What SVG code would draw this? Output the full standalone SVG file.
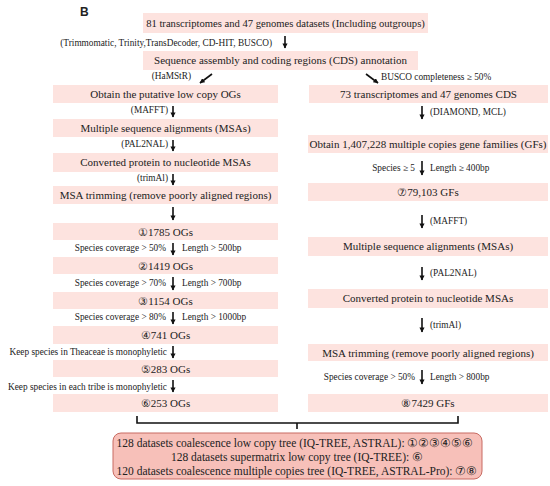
<svg xmlns="http://www.w3.org/2000/svg" width="550" height="486" viewBox="0 0 550 486">
<defs>
<marker id="ah" viewBox="0 0 10 10" refX="9" refY="5" markerWidth="3.2" markerHeight="3.2" orient="auto" markerUnits="strokeWidth">
<path d="M0,0 L10,5 L0,10 z" fill="#111"/>
</marker>
<style>
.b{fill:#fde3df;}
.t{font-family:"Liberation Serif",serif;font-size:11px;fill:#222;text-anchor:middle;}
.f{font-family:"Liberation Serif",serif;font-size:11.5px;fill:#222;text-anchor:middle;}
.s{font-family:"Liberation Serif",serif;font-size:9.3px;fill:#222;}
.r{text-anchor:end;}
.a{stroke:#111;stroke-width:1.6;fill:none;marker-end:url(#ah);}
.br{stroke:#111;stroke-width:1.6;fill:none;}
</style>
</defs>
<rect width="550" height="486" fill="#fff"/>
<text x="80" y="16" font-family="Liberation Sans,sans-serif" font-weight="bold" font-size="12" fill="#222">B</text>

<g id="n-top"><rect class="b" x="143" y="13" width="285" height="20"/><text class="t" x="285.5" y="27" style="font-size:10.6px">81 transcriptomes and 47 genomes datasets (Including outgroups)</text></g>
<g id="n-seq"><rect class="b" x="143" y="51" width="275" height="19"/><text class="t" x="280.5" y="64">Sequence assembly and  coding regions (CDS) annotation</text></g>

<g id="n-l1"><rect class="b" x="53" y="85" width="225" height="18"/><text class="t" x="165.5" y="98">Obtain the putative low copy OGs</text></g>
<g id="n-l2"><rect class="b" x="53" y="119" width="225" height="18"/><text class="t" x="165.5" y="132">Multiple sequence alignments (MSAs)</text></g>
<g id="n-l3"><rect class="b" x="53" y="153" width="225" height="19"/><text class="t" x="165.5" y="166">Converted protein to nucleotide MSAs</text></g>
<g id="n-l4"><rect class="b" x="53" y="186" width="225" height="18"/><text class="t" x="165.5" y="199">MSA trimming (remove poorly aligned regions)</text></g>
<g id="n-l5"><rect class="b" x="53" y="223" width="225" height="17"/><text class="t" x="165.5" y="235.5">①1785 OGs</text></g>
<g id="n-l6"><rect class="b" x="53" y="257" width="225" height="17"/><text class="t" x="165.5" y="269.5">②1419 OGs</text></g>
<g id="n-l7"><rect class="b" x="53" y="292" width="225" height="17"/><text class="t" x="165.5" y="304.5">③1154 OGs</text></g>
<g id="n-l8"><rect class="b" x="53" y="326" width="225" height="18"/><text class="t" x="165.5" y="339">④741 OGs</text></g>
<g id="n-l9"><rect class="b" x="53" y="360" width="225" height="17"/><text class="t" x="165.5" y="372.5">⑤283 OGs</text></g>
<g id="n-l10"><rect class="b" x="53" y="394" width="225" height="18"/><text class="t" x="165.5" y="407">⑥253 OGs</text></g>

<g id="n-r1"><rect class="b" x="309" y="85" width="239" height="18"/><text class="t" x="428.5" y="98">73 transcriptomes and 47 genomes CDS</text></g>
<g id="n-r2"><rect class="b" x="308" y="135" width="240" height="18"/><text class="t" x="428" y="148">Obtain 1,407,228 multiple copies gene families (GFs)</text></g>
<g id="n-r3"><rect class="b" x="308" y="183" width="240" height="18"/><text class="t" x="428" y="196">⑦79,103 GFs</text></g>
<g id="n-r4"><rect class="b" x="308" y="237" width="240" height="19"/><text class="t" x="428" y="250">Multiple sequence alignments (MSAs)</text></g>
<g id="n-r5"><rect class="b" x="308" y="289" width="240" height="19"/><text class="t" x="428" y="302">Converted protein to nucleotide MSAs</text></g>
<g id="n-r6"><rect class="b" x="308" y="344" width="240" height="17"/><text class="t" x="428" y="356.5">MSA trimming (remove poorly aligned regions)</text></g>
<g id="n-r7"><rect class="b" x="308" y="394" width="240" height="18"/><text class="t" x="428" y="407">⑧7429 GFs</text></g>

<g id="n-final"><rect x="113" y="433" width="369" height="46" rx="8" fill="#f7c0b9" stroke="#c86b62" stroke-width="1"/>
<text class="f" x="295" y="447">128 datasets coalescence low copy tree (IQ-TREE, ASTRAL): ①②③④⑤⑥</text>
<text class="f" x="297" y="461">128 datasets supermatrix low copy tree (IQ-TREE): ⑥</text>
<text class="f" x="297" y="475">120 datasets coalescence multiple copies tree (IQ-TREE, ASTRAL-Pro): ⑦⑧</text>
</g>

<g id="connectors">
<line class="a" x1="285" y1="36" x2="285" y2="48"/>
<text class="s r" x="272" y="46">(Trimmomatic, Trinity,TransDecoder, CD-HIT, BUSCO)</text>
<line class="a" x1="212" y1="74" x2="200" y2="83"/>
<text class="s r" x="191" y="79">(HaMStR)</text>
<line class="a" x1="366" y1="74" x2="378" y2="83"/>
<text class="s" x="381" y="80">BUSCO completeness ≥ 50%</text>

<line class="a" x1="173" y1="106" x2="173" y2="117"/><text class="s r" x="168" y="113">(MAFFT)</text>
<line class="a" x1="173" y1="140" x2="173" y2="151"/><text class="s r" x="168" y="147">(PAL2NAL)</text>
<line class="a" x1="173" y1="174" x2="173" y2="185"/><text class="s r" x="168" y="181">(trimAl)</text>
<line class="a" x1="173" y1="207" x2="173" y2="220"/>
<line class="a" x1="173" y1="243" x2="173" y2="255"/><text class="s r" x="166" y="251">Species coverage &gt; 50%</text><text class="s" x="182" y="251">Length &gt; 500bp</text>
<line class="a" x1="173" y1="277" x2="173" y2="290"/><text class="s r" x="166" y="286">Species coverage &gt; 70%</text><text class="s" x="182" y="286">Length &gt; 700bp</text>
<line class="a" x1="173" y1="312" x2="173" y2="324"/><text class="s r" x="166" y="320">Species coverage &gt; 80%</text><text class="s" x="182" y="320">Length &gt; 1000bp</text>
<line class="a" x1="173" y1="346" x2="173" y2="358"/><text class="s r" x="167" y="355">Keep species in Theaceae is monophyletic</text>
<line class="a" x1="173" y1="380" x2="173" y2="392"/><text class="s r" x="167" y="390">Keep species in each tribe is monophyletic</text>

<line class="a" x1="422" y1="106" x2="422" y2="119"/><text class="s" x="430" y="115">(DIAMOND, MCL)</text>
<line class="a" x1="422" y1="161" x2="422" y2="175"/><text class="s r" x="415" y="171">Species ≥ 5</text><text class="s" x="430" y="171">Length ≥ 400bp</text>
<line class="a" x1="422" y1="215" x2="422" y2="228"/><text class="s" x="430" y="224">(MAFFT)</text>
<line class="a" x1="422" y1="267" x2="422" y2="280"/><text class="s" x="430" y="276">(PAL2NAL)</text>
<line class="a" x1="422" y1="318" x2="422" y2="332"/><text class="s" x="430" y="328">(trimAl)</text>
<line class="a" x1="422" y1="370" x2="422" y2="384"/><text class="s r" x="415" y="380">Species coverage &gt; 50%</text><text class="s" x="430" y="380">Length &gt; 800bp</text>

<path class="br" d="M137,416 V423 H458 V416"/>
<line class="br" x1="297" y1="423" x2="297" y2="429"/>
</g>
</svg>
